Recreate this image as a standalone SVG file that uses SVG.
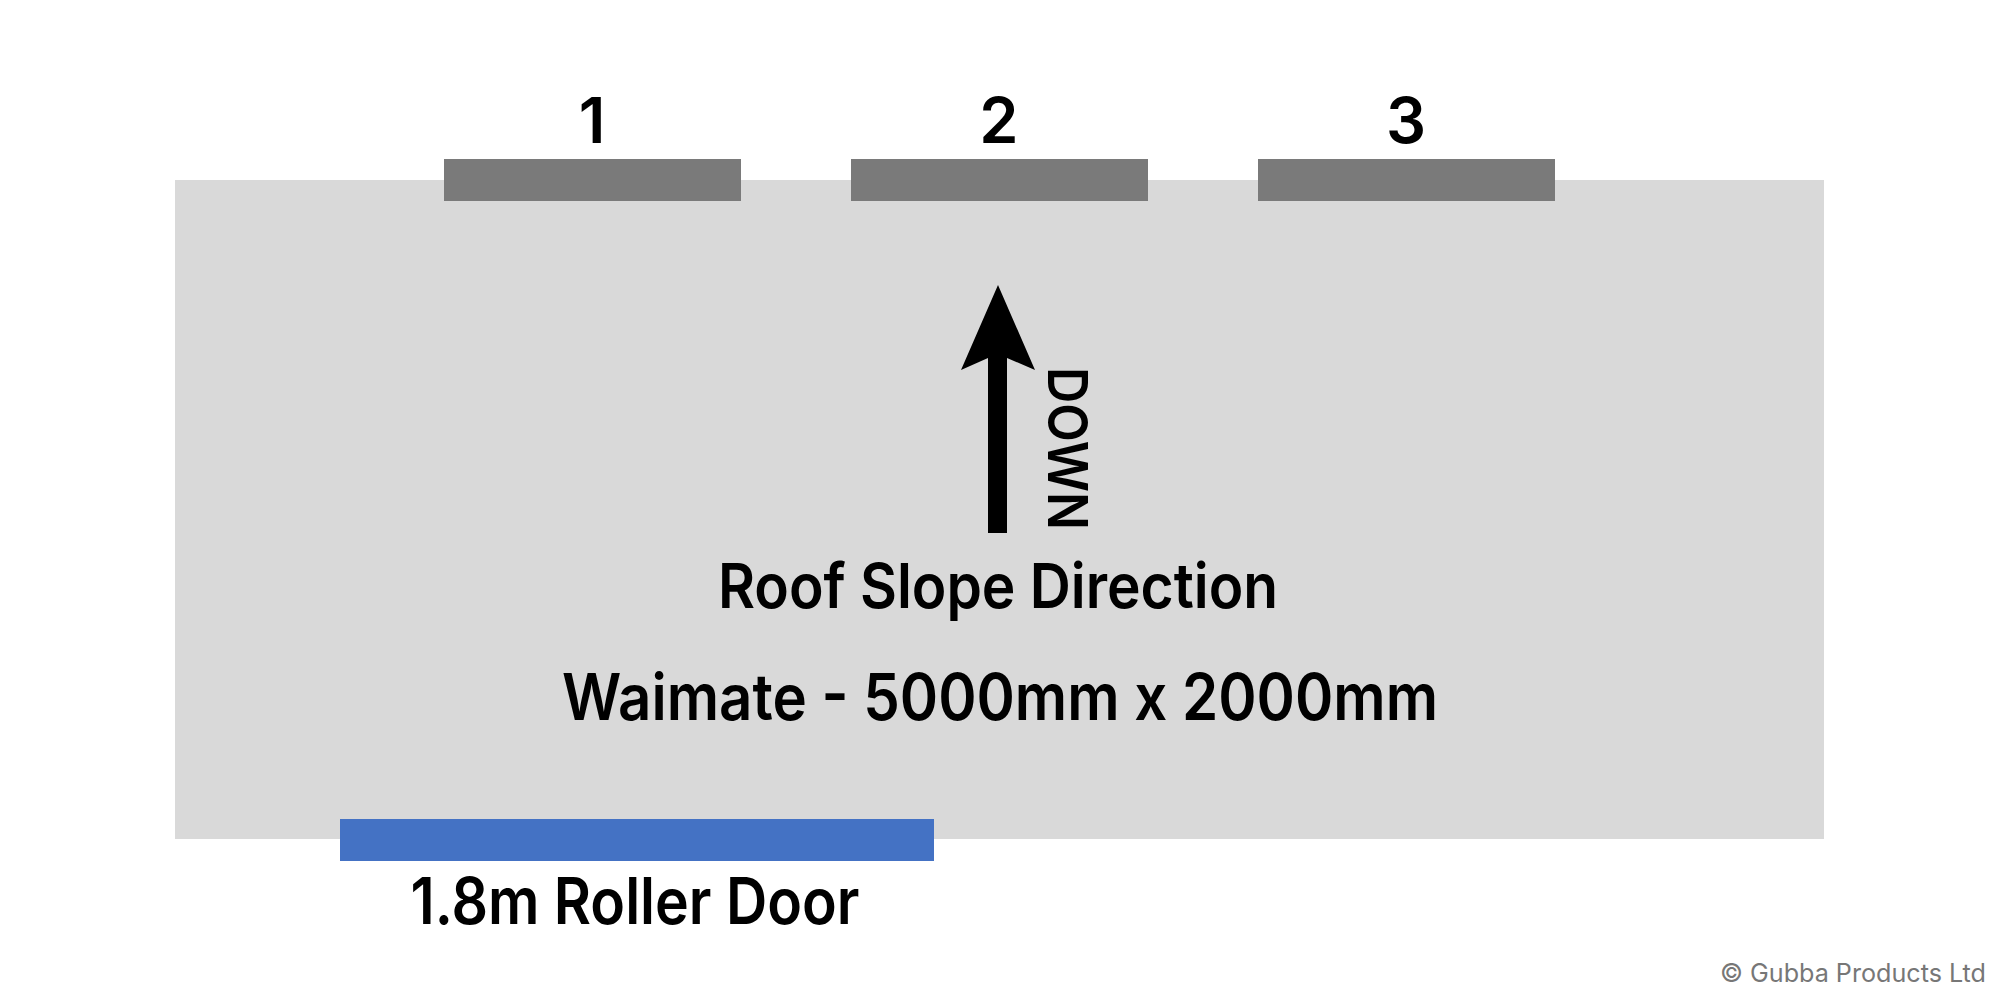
<svg xmlns="http://www.w3.org/2000/svg" width="2000" height="1000" viewBox="0 0 2000 1000">
<style>
.lbl{font-family:Inter,"Liberation Sans",sans-serif;font-weight:600;fill:#000;text-anchor:middle}
.win{fill:#7a7a7a}
</style>
<rect width="2000" height="1000" fill="#fff"/>
<g id="building">
<rect x="175" y="180" width="1649" height="659" fill="#d9d9d9"/>
</g>
<g id="window1"><rect class="win" x="444" y="159" width="297" height="42"/><text class="lbl" x="592" y="143" font-size="63">1</text></g>
<g id="window2"><rect class="win" x="851" y="159" width="297" height="42"/><text class="lbl" x="999" y="143" font-size="63">2</text></g>
<g id="window3"><rect class="win" x="1258" y="159" width="297" height="42"/><text class="lbl" x="1406" y="143" font-size="63">3</text></g>
<g id="connectors">
<polygon points="998,285 1035,370 1007,358 1007,533 988,533 988,358 961,370" fill="#000"/>
</g>
<g id="down-label"><text class="lbl" font-size="55" transform="translate(1048,367) rotate(90)" style="text-anchor:start" textLength="163" lengthAdjust="spacingAndGlyphs">DOWN</text></g>
<g id="slope-label"><text class="lbl" x="998" y="608" font-size="62" textLength="560" lengthAdjust="spacingAndGlyphs">Roof Slope Direction</text></g>
<g id="title"><text class="lbl" x="1000" y="720" font-size="64" textLength="876" lengthAdjust="spacingAndGlyphs">Waimate - 5000mm x 2000mm</text></g>
<g id="roller-door">
<rect x="340" y="819" width="594" height="42" fill="#4472c4"/>
<text class="lbl" x="635" y="924" font-size="64" textLength="449" lengthAdjust="spacingAndGlyphs">1.8m Roller Door</text>
</g>
<g id="copyright"><text x="1720" y="982" font-family="Inter,'Liberation Sans',sans-serif" font-size="25" fill="#777" textLength="266" lengthAdjust="spacingAndGlyphs">© Gubba Products Ltd</text></g>
</svg>
